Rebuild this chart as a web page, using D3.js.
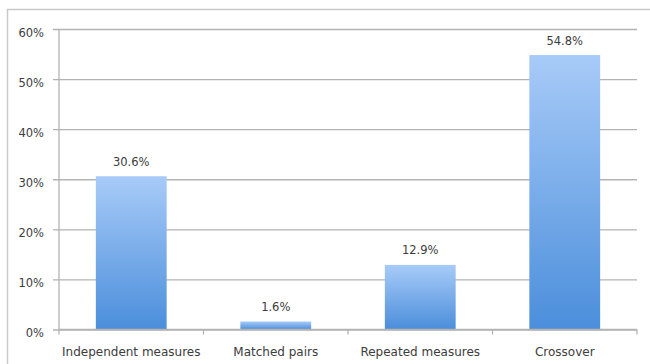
<!DOCTYPE html>
<html>
<head>
<meta charset="utf-8">
<script src="https://cdn.jsdelivr.net/npm/d3@7"></script>
<style>
  html, body { margin: 0; padding: 0; background: #fff; }
  svg { display: block; }
  text { font-family: "DejaVu Sans", sans-serif; fill: #3c3c3c; }
</style>
</head>
<body>
<svg id="chart" width="650" height="364"></svg>
<script>
// Share of studies by design type
const categories = ["Independent measures", "Matched pairs", "Repeated measures", "Crossover"];
const shares = [30.6, 1.6, 12.9, 54.8];
const yTicks = [0, 10, 20, 30, 40, 50, 60];

const svg = d3.select("#chart");
const W = 650, H = 364;
const margin = { left: 59, right: 13, top: 29, bottom: 34.5 };

// frame around the chart area
svg.append("rect")
  .attr("x", 7.5).attr("y", 9.5)
  .attr("width", W).attr("height", H)
  .attr("fill", "none").attr("stroke", "#c9c9c9").attr("stroke-width", 1.5);

const x0 = margin.left, x1 = W - margin.right;
const yBase = H - margin.bottom;

const xBand = d3.scaleBand().domain(categories).range([x0, x1]).paddingInner(0.51).paddingOuter(0.255);
const xStep = d3.scaleBand().domain(categories).range([x0, x1]).padding(0);
const y = d3.scaleLinear().domain([0, 60]).range([yBase, margin.top]);

const defs = svg.append("defs");
const grad = defs.append("linearGradient").attr("id", "barFill")
  .attr("x1", 0).attr("y1", 0).attr("x2", 0).attr("y2", 1);
grad.append("stop").attr("offset", "0%").attr("stop-color", "#a8cbf8");
grad.append("stop").attr("offset", "100%").attr("stop-color", "#4b8edb");

// horizontal gridlines + y axis labels
const yAxis = d3.axisLeft(y).tickValues(yTicks).tickSize(-(x1 - x0)).tickFormat(d => d + "%");
const gy = svg.append("g").attr("transform", `translate(${x0},0)`).call(yAxis);
gy.select(".domain").remove();
gy.selectAll(".tick line").attr("stroke", "#b3b3b3").attr("stroke-width", 1.3).attr("x1", -6);
gy.selectAll(".tick text")
  .attr("x", -15).attr("dy", "0.62em")
  .attr("font-size", 11.5).attr("fill", "#444");

// vertical axis line
svg.append("line")
  .attr("x1", x0).attr("x2", x0).attr("y1", y(60)).attr("y2", yBase)
  .attr("stroke", "#b3b3b3").attr("stroke-width", 1.3);

// bars
svg.selectAll("rect.bar").data(categories).join("rect")
  .attr("class", "bar")
  .attr("x", d => xBand(d))
  .attr("width", xBand.bandwidth())
  .attr("y", (d, i) => y(shares[i]))
  .attr("height", (d, i) => yBase - y(shares[i]))
  .attr("fill", "url(#barFill)");

// x axis with ticks at category boundaries
svg.append("line")
  .attr("x1", x0).attr("x2", x1).attr("y1", yBase).attr("y2", yBase)
  .attr("stroke", "#b3b3b3").attr("stroke-width", 1.3);
const bounds = categories.map(c => xStep(c)).concat([x1]);
svg.selectAll("line.xtick").data(bounds).join("line")
  .attr("class", "xtick")
  .attr("x1", d => d).attr("x2", d => d)
  .attr("y1", yBase).attr("y2", yBase + 5)
  .attr("stroke", "#b3b3b3").attr("stroke-width", 1.3);

// category labels
svg.selectAll("text.cat").data(categories).join("text")
  .attr("class", "cat")
  .attr("x", d => xStep(d) + xStep.bandwidth() / 2)
  .attr("y", yBase + 26.5)
  .attr("text-anchor", "middle")
  .attr("font-size", 12)
  .text(d => d);

// value labels
svg.selectAll("text.val").data(categories).join("text")
  .attr("class", "val")
  .attr("x", d => xBand(d) + xBand.bandwidth() / 2)
  .attr("y", (d, i) => y(shares[i]) - 10.5)
  .attr("text-anchor", "middle")
  .attr("font-size", 11.5)
  .text((d, i) => shares[i].toFixed(1) + "%");
</script>
</body>
</html>
